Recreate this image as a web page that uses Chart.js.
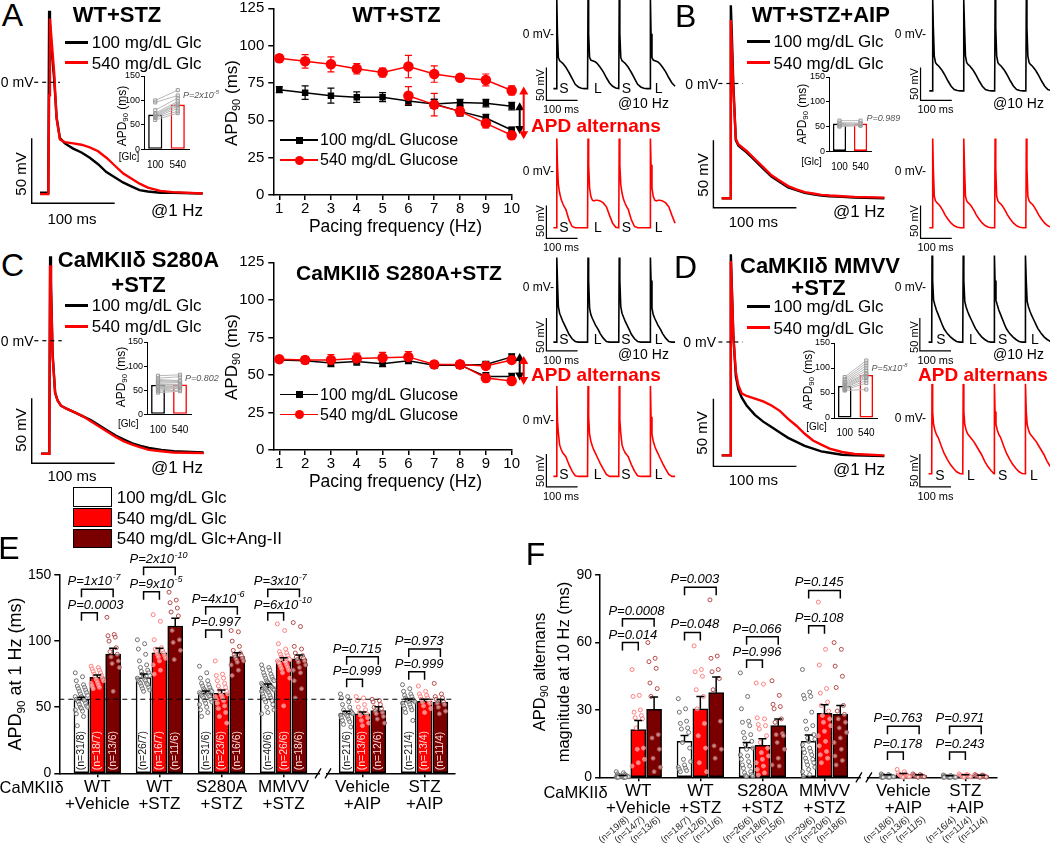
<!DOCTYPE html>
<html>
<head>
<meta charset="utf-8">
<script src="https://cdn.jsdelivr.net/npm/chart.js@4.4.0/dist/chart.umd.min.js"></script>
<style>
  body { margin: 0; background: #fff; }
  #fig { position: relative; width: 1050px; height: 843px; overflow: hidden; background: #fff;
         font-family: 'Liberation Sans', Arial, sans-serif; color: #000; }
  #fig canvas { position: absolute; }
  .t { position: absolute; white-space: nowrap; line-height: 1; }
  .t sub, .t sup { font-size: 0.65em; line-height: 0; }
  .t sub { vertical-align: -0.3em; }
  .t sup { vertical-align: 0.55em; }
  .ln, .mk, .box { position: absolute; }
  .box { border: 1.5px solid #000; box-sizing: border-box; }
</style>
</head>
<body>
<div id="fig"></div>
<script>
// ---- action potentials at 1 Hz (ms / mV) ----
const apTime = [-10, 0, 1, 2, 4, 7, 10, 14, 20, 30, 40, 50, 60, 70, 80, 90, 100, 110, 120, 135, 150, 186];
const apA_100 = [-85, -85, 55, 45, 25, 3, -27, -43, -47, -51, -54, -58, -63, -69, -73, -77, -80, -83, -84, -85, -85, -85.5];
const apA_540 = [-86, -86, -10, 49, 32, 8, -28, -44, -46, -47, -48, -50, -53, -58, -64, -70, -74, -78, -81, -83.5, -84.5, -85.5];
const apB_100 = [-85, -85, 58, 40, 0, -42, -46, -48, -51, -57, -63, -69, -73, -77, -79, -81, -82, -83, -83.5, -84, -84.5, -85];
const apB_540 = [-85, -85, 47, 30, -5, -41, -45, -47, -50, -56, -62, -68, -72, -76, -78.5, -80.5, -81.5, -82.5, -83, -83.5, -84, -84.5];
const apC_100 = [-87, -87, 65, 45, -10, -40, -46, -50, -52, -55, -58, -61, -65, -69, -73, -76, -79, -81, -82.5, -84, -85, -86];
const apC_540 = [-87, -87, 58, 40, -12, -40, -46, -50, -52, -55, -58, -62, -66, -70, -74, -77.5, -80, -82, -84, -85, -86, -86.5];
const apD_100 = [-84, -84, 65, 45, 5, -25, -35, -41, -47, -54, -59, -63, -67, -71, -74, -77, -79, -81, -82, -83.5, -84, -84.5];
const apD_540 = [-84, -84, 60, 42, 5, -22, -32, -38, -40, -42, -44, -47, -51, -57, -62, -68, -73, -76, -79, -81.5, -83, -84];

// ---- single beats at 10 Hz (S = short, L = long) ----
const beatTime = [0, 1, 3, 6, 10, 15, 20, 25, 30, 35, 40, 50, 60, 70, 80, 90, 99.5];
const beatA100S = [-83.5, 52, 0, -36, -41, -43, -45, -48, -51, -55, -59, -68, -77, -81, -83, -83.5, -83.5];
const beatA100L = [-83.5, 52, 0, -36, -40, -41, -42, -43, -45, -48, -51, -58, -67, -75, -80, -82.5, -83.5];
const beatA540S = [-86, 50, 10, -20, -33, -43, -49, -54, -58, -66, -74, -84, -86, -86, -86, -86, -86];
const beatA540L = [-86, 50, 10, -25, -38, -44, -45, -44, -44, -44.5, -45, -48, -54, -67, -79, -85, -86];
const beatB100 = [-87, 52, 10, -34, -44, -47, -49, -52, -55, -59, -63, -72, -80, -85, -86.5, -87, -87];
const beatB540 = [-86, 50, 5, -38, -45, -48, -50, -53, -57, -61, -66, -73, -79, -83, -85, -86, -86];
const beatC100S = [-84, 45, 10, -30, -40, -46, -52, -57, -62, -67, -72, -79, -83, -84, -84, -84, -84];
const beatC100L = [-84, 45, 10, -32, -42, -48, -53, -58, -62, -66, -71, -78, -83, -84, -84, -84, -84];
const beatC540S = [-86, 52, 0, -20, -38, -45, -50, -53, -56, -62, -68, -78, -85, -86, -86, -86, -86];
const beatC540L = [-86, 52, 5, -22, -32, -40, -46, -51, -56, -61, -66, -75, -83, -86, -86, -86, -86];
const beatD100S = [-84, 48, 10, -20, -27, -35, -41, -47, -53, -59, -64, -71, -76, -80, -83, -84, -84];
const beatD100L = [-84, 48, 10, -22, -30, -37, -43, -48, -53, -58, -63, -70, -76, -80, -83, -84, -84];
const beatD540S = [-85, 52, 10, -10, -18, -25, -29, -35, -42, -48, -54, -63, -71, -77, -82, -84.5, -85];
const beatD540L = [-85, 52, 10, -10, -18, -24, -27, -30, -33, -36, -40, -48, -56, -66, -74, -80, -85];

// ---- inset APD90 at 1 Hz (ms) ----
const insetLabels = ['100', '540'];
const insetA_mean = [71, 91.5];
const insetA_100 = [100, 96, 80, 74, 72, 70, 68, 66, 64, 60];
const insetA_540 = [121, 110, 105, 98, 94, 91, 88, 84, 78, 74];
const insetB_mean = [56, 56];
const insetB_100 = [62, 58, 56, 54, 52, 50];
const insetB_540 = [62, 57, 55, 55, 52, 52];
const insetC_mean = [61, 62];
const insetC_100 = [80, 75, 72, 70, 68, 65, 63, 62, 60, 58, 57, 55, 53, 50, 48, 45];
const insetC_540 = [82, 78, 70, 68, 70, 66, 62, 60, 62, 58, 56, 58, 55, 54, 50, 48];
const insetD_mean = [64, 86];
const insetD_100 = [82, 78, 75, 72, 70, 68, 66, 64, 62, 60, 58, 56, 55];
const insetD_540 = [115, 110, 105, 100, 95, 90, 88, 85, 82, 80, 75, 70, 57];

// ---- APD90 vs pacing frequency ----
const freqHz = [1, 2, 3, 4, 5, 6, 7, 8, 9, 10];
const aGlc100 = [70.5, 68.5, 66.5, 65.5, 65.5, 63, 61, 62, 61.5, 59.5];
const aGlc100Err = [2, 4.5, 5, 3.5, 3, 3, 3, 2, 2.5, 2.5];
const aGlc100Alt = [null, null, null, null, null, null, 61, 56, 51.5, 43.5];
const aGlc100AltErr = [null, null, null, null, null, null, 3, 3, 2.5, 2];
const aGlc540 = [91.5, 89.5, 87.5, 84.5, 82, 86, 81, 78.5, 77, 70];
const aGlc540Err = [2.5, 4.5, 5, 3.5, 3, 7.5, 5.5, 2, 4, 3];
const aGlc540Alt = [null, null, null, null, null, 66.5, 60.5, 56, 48, 40];
const aGlc540AltErr = [null, null, null, null, null, 6, 7.5, 3, 3, 2.5];
const cGlc100 = [60, 59.5, 58, 59, 57.5, 59.5, 56.5, 56.5, 57, 62];
const cGlc100Err = [1.5, 2, 2.5, 2.5, 2, 2, 2, 2, 2, 2];
const cGlc100Alt = [null, null, null, null, null, null, null, 56.5, 49, 49];
const cGlc100AltErr = [null, null, null, null, null, null, null, 2, 2.5, 2];
const cGlc540 = [60.5, 60, 60, 61, 61.5, 62, 57, 57, 56, 60];
const cGlc540Err = [1.5, 2, 3.5, 3.5, 3.5, 3.5, 2, 2, 2, 2];
const cGlc540Alt = [null, null, null, null, null, null, null, 57, 48, 46];
const cGlc540AltErr = [null, null, null, null, null, null, null, 2, 2.5, 2];

// ---- panels E and F ----
const groupLabels = [['WT', '+Vehicle'], ['WT', '+STZ'], ['S280A', '+STZ'], ['MMVV', '+STZ'], ['Vehicle', '+AIP'], ['STZ', '+AIP']];
const e100 = [56, 72.4, 60.5, 65.5, 45.4, 54.7];
const e540 = [72.6, 91.2, 60.5, 85, 44.9, 54.5];
const eAng = [90.2, 111.4, 88.2, 86.5, 47.4, 53.9];
const e100Err = [1.5, 2.7, 1.8, 2, 1.5, 1.5];
const e540Err = [1.8, 3.4, 2.5, 2.5, 1.5, 1.5];
const eAngErr = [4.4, 5.8, 3, 3, 3, 2];
const eBaseline = 56;
const ePts100 = [
  [76, 73, 70, 67, 66, 65, 64, 63, 62, 61, 60, 59, 58, 58, 57, 56, 56, 55, 55, 54, 53, 52, 51, 50, 50, 49, 48, 47, 45, 43, 36],
  [101, 98, 94, 90, 85, 82, 80, 78, 77, 76, 75, 74, 73, 72, 71, 70, 70, 69, 68, 68, 67, 66, 65, 64, 63, 62],
  [81, 76, 72, 70, 68, 67, 66, 65, 64, 63, 63, 62, 62, 61, 61, 60, 60, 59, 59, 58, 58, 57, 56, 55, 54, 53, 52, 50, 48, 46, 43],
  [82, 80, 79, 78, 76, 75, 74, 73, 72, 71, 70, 70, 69, 68, 68, 67, 67, 66, 66, 65, 65, 64, 64, 63, 63, 62, 62, 61, 60, 59, 58, 57, 56, 55, 54, 52, 50, 48, 46, 45],
  [60, 58, 57, 54, 52, 50, 48, 47, 46, 46, 45, 45, 44, 44, 43, 42, 41, 40, 39, 37, 35],
  [67, 64, 62, 60, 59, 58, 57, 56, 56, 55, 55, 54, 54, 53, 52, 51, 50, 49, 48, 46, 40]
];
const ePts540 = [
  [81, 80, 79, 78, 77, 76, 75, 74, 73, 72, 71, 70, 69, 68, 67, 66, 65, 64],
  [120, 115, 101, 95, 94, 93, 92, 91, 90, 89, 88, 87, 85, 82, 78, 75],
  [85, 75, 74, 72, 70, 68, 66, 65, 63, 62, 61, 60, 59, 58, 57, 56, 55, 53, 51, 49, 46, 43, 38],
  [113, 108, 98, 94, 92, 91, 90, 89, 88, 87, 87, 86, 86, 85, 85, 84, 84, 83, 82, 81, 80, 79, 78, 76, 72, 51],
  [58, 57, 55, 52, 50, 48, 46, 45, 44, 42, 40, 38, 36],
  [66, 62, 60, 59, 58, 57, 56, 55, 54, 53, 51, 49, 46]
];
const ePtsAng = [
  [118, 105, 104, 103, 100, 95, 92, 90, 88, 85, 83, 80, 62],
  [137, 131, 129, 125, 122, 119, 108, 101, 99, 93, 86],
  [108, 107, 100, 96, 93, 91, 90, 89, 88, 87, 86, 85, 84, 82, 78, 74],
  [114, 111, 96, 94, 91, 89, 88, 87, 86, 85, 84, 82, 80, 78, 76, 70, 64, 57],
  [56, 55, 54, 52, 50, 49, 47, 46, 45, 43, 41, 38],
  [68, 60, 58, 57, 56, 54, 53, 52, 50, 47, 45]
];
const eN100 = ['31/8', '26/7', '31/6', '40/6', '21/6', '21/4'];
const eN540 = ['18/7', '16/7', '23/6', '26/6', '13/6', '13/4'];
const eNAng = ['13/6', '11/6', '16/6', '18/6', '12/6', '11/4'];
const ePvals = [['0.0003', '1x10^-7'], ['9x10^-5', '2x10^-10'], ['0.997', '4x10^-6'], ['6x10^-10', '3x10^-7'], ['0.999', '0.715'], ['0.999', '0.973']];

const f100 = [0.5, 16, 13.3, 16, 0.8, 0.5];
const f540 = [21.3, 30.5, 14.2, 28.5, 1.2, 0.8];
const fAng = [30.3, 37.7, 23, 28, 0.8, 0.6];
const f100Err = [0.3, 2.6, 2.2, 2.8, 0.3, 0.2];
const f540Err = [4, 5.5, 3, 3.8, 0.5, 0.3];
const fAngErr = [5.5, 7, 3, 4, 0.3, 0.3];
const fPts100 = [
  [2.5, 2, 1.5, 1.2, 1, 1, 0.8, 0.6, 0.5, 0.4, 0.3, 0.2, 0.2, 0.1, 0, 0, 0, 0, 0],
  [35, 30.5, 29, 25, 24, 22, 21.5, 20, 15.5, 13, 8, 7, 5.5, 4.5, 4, 3.5, 3, 2.5],
  [46.5, 36, 30.5, 25, 24.5, 23, 20, 19, 17.5, 16, 14.5, 13, 12.5, 10, 9.5, 8, 7, 5.5, 5, 4, 2.5, 2, 1.2, 0.8, 0.5, 0.3],
  [48, 38, 36.5, 36, 35, 29, 25, 23, 21.5, 19, 17.5, 17, 16, 14.5, 13, 12.5, 11.5, 11, 10, 8.5, 8, 7, 6.5, 5.5, 4.5, 3.5, 2.5, 1.2, 0.5],
  [1.5, 1.2, 1, 0.8, 0.8, 0.6, 0.5, 0.5, 0.4, 0.3, 0.3, 0.2, 0.2, 0.1, 0.1, 0, 0, 0],
  [1, 0.8, 0.6, 0.5, 0.4, 0.3, 0.3, 0.2, 0.2, 0.1, 0.1, 0, 0, 0, 0, 0]
];
const fPts540 = [
  [48, 36.5, 36, 30, 29, 27.5, 26.5, 26, 22, 13, 12.5, 8, 6.5, 5],
  [58.5, 48, 47, 45, 39, 36, 30.5, 24, 18.5, 13, 6.5, 2.5],
  [42, 41.5, 26.5, 26, 23.5, 23, 21.5, 18.5, 15.5, 13, 11, 9.5, 8, 6.5, 5, 3.5, 2, 1],
  [78, 57, 50, 39.5, 37.5, 33.5, 32, 29.5, 27.5, 26, 24.5, 23, 20.5, 18.5, 16, 14, 11.5, 10, 8.5, 6.5],
  [3.5, 2.5, 2, 1.5, 1.2, 1, 1, 0.8, 0.6, 0.5, 0.3, 0.2, 0],
  [1.5, 1.2, 1, 1, 0.8, 0.8, 0.6, 0.5, 0.4, 0.2, 0]
];
const fPtsAng = [
  [60, 53, 51.5, 48.5, 42, 39.5, 36, 19, 17.5, 12.5, 8.5, 4.5, 2.5],
  [79, 54, 53, 48, 47, 44, 39, 25, 14, 12.5, 8.5],
  [43, 36.5, 32.5, 31.5, 30.5, 26, 24.5, 19.5, 19, 18.5, 15.5, 12.5, 8.5, 5.5, 5],
  [60, 57, 49.5, 45, 40, 32, 29.5, 28, 26, 24.5, 22, 20, 17.5, 15.5, 12.5, 9.5, 7.5, 5.5],
  [1.5, 1.2, 1, 0.8, 0.8, 0.6, 0.5, 0.4, 0.3, 0.2, 0],
  [1.2, 1, 0.8, 0.8, 0.6, 0.5, 0.4, 0.3, 0.2, 0.1, 0]
];
const fN100 = ['19/8', '18/7', '26/6', '29/6', '18/6', '16/4'];
const fN540 = ['14/7', '12/6', '18/6', '20/6', '13/6', '11/4'];
const fNAng = ['13/6', '11/6', '15/6', '18/6', '11/5', '11/4'];
const fPvals = [['0.014', '0.0008'], ['0.048', '0.003'], ['0.996', '0.066'], ['0.108', '0.145'], ['0.178', '0.763'], ['0.243', '0.971']];

// layout helpers for E/F (not data)
const groupPos = [1, 2, 3, 4, 5.27, 6.27];
const barOff = [-0.255, 0, 0.255];
const eBracketY = [[121.5, 139.2], [137.4, 155.8], [108.4, 126], [121.5, 139.2], [71.1, 88.2], [76.9, 94]];
const fBracketY = [[60, 70.6], [64.5, 84.6], [52.2, 62.6], [67.5, 83.2], [11.3, 22.7], [11.3, 22.7]];

// ================= drawing =================
const RED = '#ff0000', DARK = '#7a0000';
const FONT = "'Liberation Sans', Arial, sans-serif";
Chart.defaults.animation = false;
Chart.defaults.font.family = FONT;
Chart.defaults.color = '#000';
Chart.defaults.plugins.legend.display = false;
Chart.defaults.plugins.tooltip.enabled = false;
Chart.defaults.events = [];

const fig = document.getElementById('fig');

function canvasAt(left, top, w, h) {
  const c = document.createElement('canvas');
  c.width = w; c.height = h;
  c.style.left = left + 'px'; c.style.top = top + 'px';
  c.style.width = w + 'px'; c.style.height = h + 'px';
  fig.appendChild(c);
  return c;
}

// scale bars + dashed 0 mV mark on the voltage traces
const traceDeco = {
  id: 'traceDeco',
  afterDatasetsDraw(chart, args, o) {
    const { ctx, scales: { x, y } } = chart;
    ctx.save();
    ctx.strokeStyle = '#000';
    ctx.lineWidth = o.lw || 1.4;
    if (o.bar) {
      const [t, v] = o.bar;
      ctx.beginPath();
      ctx.moveTo(x.getPixelForValue(t), y.getPixelForValue(v + 50));
      ctx.lineTo(x.getPixelForValue(t), y.getPixelForValue(v));
      ctx.lineTo(x.getPixelForValue(t + 100), y.getPixelForValue(v));
      ctx.stroke();
    }
    if (o.zero) {
      ctx.setLineDash([4, 4]);
      ctx.lineWidth = 1.2;
      ctx.beginPath();
      ctx.moveTo(x.getPixelForValue(o.zero[0]), y.getPixelForValue(0));
      ctx.lineTo(x.getPixelForValue(o.zero[1]), y.getPixelForValue(0));
      ctx.stroke();
    }
    ctx.restore();
  }
};

function traceChart(box, origin, pxMs, pxMv, series, deco, lw) {
  const [left, top, w, h] = box;
  const [ox, oy] = origin;
  new Chart(canvasAt(left, top, w, h), {
    type: 'line',
    data: {
      datasets: series.map(s => ({
        data: s.t.map((t, i) => ({ x: t, y: s.v[i] })),
        borderColor: s.color, borderWidth: lw, pointRadius: 0, tension: 0
      }))
    },
    options: {
      responsive: false,
      layout: { padding: 0 },
      scales: {
        x: { type: 'linear', display: false, min: (left - ox) / pxMs, max: (left + w - ox) / pxMs },
        y: { type: 'linear', display: false, min: (oy - top - h) / pxMv, max: (oy - top) / pxMv }
      },
      plugins: { traceDeco: deco }
    },
    plugins: [traceDeco]
  });
}

function beatTrain(beats) {
  const t = [-10], v = [beats[0][0]];
  beats.forEach((b, k) => beatTime.forEach((bt, i) => {
    if (bt + 100 * k <= 380) { t.push(bt + 100 * k); v.push(b[i]); }
  }));
  return { t, v };
}

function oneHz(box, origin, pxMv, v100, v540, bar, zero) {
  traceChart(box, origin, 0.83, pxMv, [
    { t: apTime, v: v540, color: RED },
    { t: apTime, v: v100, color: '#000' }
  ], { bar, zero }, 2.4);
}

function tenHz(box, origin, beats, color, bar) {
  const tr = beatTrain(beats);
  traceChart(box, origin, 0.312, 0.656, [{ t: tr.t, v: tr.v, color }], { bar, lw: 1.2 }, 1.6);
}

function insetChart(g, means, v100, v540) {
  const left = g.ax - 26, top = g.yTop - 7;
  const w = Math.ceil(g.xEnd - left + 4), h = Math.ceil(g.y0 + 20 - top);
  const pairs = v100.map((v, i) => ({
    type: 'line', order: 0, data: [v, v540[i]],
    borderColor: '#b8b8b8', borderWidth: 1, pointStyle: 'rect', pointRadius: 2.2,
    pointBorderColor: '#9a9a9a', pointBackgroundColor: 'rgba(255,255,255,0.2)', pointBorderWidth: 1
  }));
  new Chart(canvasAt(left, top, w, h), {
    type: 'bar',
    data: {
      labels: insetLabels,
      datasets: [...pairs, {
        type: 'bar', order: 1, data: means, backgroundColor: '#fff', borderColor: ['#000', RED],
        borderWidth: 1.6, borderSkipped: false, categoryPercentage: 1, barPercentage: 0.63
      }]
    },
    options: {
      responsive: false,
      layout: { padding: { top: 7, left: 0, right: left + w - g.xEnd, bottom: 0 } },
      scales: {
        x: {
          grid: { display: false }, border: { color: '#000', width: 1 },
          ticks: { font: { size: 10, lineHeight: 1.1 }, padding: 2, maxRotation: 0 },
          afterFit: s => { s.height = top + h - g.y0; }
        },
        y: {
          min: 0, max: 150, ticks: { stepSize: 50, font: { size: 9 }, padding: 1 },
          grid: { drawOnChartArea: false, tickLength: 3, color: '#000' },
          border: { color: '#000', width: 1 },
          afterFit: s => { s.width = 26; }
        }
      }
    }
  });
}

// error bars + alternans arrows for the frequency plots
function dArrow(ctx, x, yTop, yBot, color) {
  ctx.strokeStyle = color; ctx.fillStyle = color; ctx.lineWidth = 2;
  ctx.beginPath(); ctx.moveTo(x, yTop + 6); ctx.lineTo(x, yBot - 6); ctx.stroke();
  ctx.beginPath(); ctx.moveTo(x, yTop); ctx.lineTo(x - 4.5, yTop + 8); ctx.lineTo(x + 4.5, yTop + 8); ctx.closePath(); ctx.fill();
  ctx.beginPath(); ctx.moveTo(x, yBot); ctx.lineTo(x - 4.5, yBot - 8); ctx.lineTo(x + 4.5, yBot - 8); ctx.closePath(); ctx.fill();
}

const freqDeco = {
  id: 'freqDeco',
  beforeDatasetsDraw(chart) {
    const { ctx, scales: { y } } = chart;
    ctx.save();
    ctx.lineWidth = 1.2;
    chart.data.datasets.forEach((ds, di) => {
      const meta = chart.getDatasetMeta(di);
      ctx.strokeStyle = ds.borderColor;
      ds.errors.forEach((e, i) => {
        const v = ds.data[i].y;
        if (v == null || e == null) return;
        const px = meta.data[i].x;
        const t = y.getPixelForValue(v + e), b = y.getPixelForValue(v - e);
        ctx.beginPath();
        ctx.moveTo(px, t); ctx.lineTo(px, b);
        ctx.moveTo(px - 3.5, t); ctx.lineTo(px + 3.5, t);
        ctx.moveTo(px - 3.5, b); ctx.lineTo(px + 3.5, b);
        ctx.stroke();
      });
    });
    ctx.restore();
  },
  afterDatasetsDraw(chart, args, o) {
    const { ctx, scales: { x, y } } = chart;
    ctx.save();
    (o.arrows || []).forEach(a => {
      dArrow(ctx, x.getPixelForValue(a.at) + a.dx, y.getPixelForValue(a.hi) - 4, y.getPixelForValue(a.lo) + 4, a.color);
    });
    ctx.restore();
  }
};

function freqChart(top, h, series, arrows) {
  new Chart(canvasAt(228, top, 300, h), {
    type: 'line',
    data: {
      datasets: series.map(s => ({
        data: freqHz.map((f, i) => ({ x: f, y: s.v[i] })),
        errors: s.e, borderColor: s.color, backgroundColor: s.color, borderWidth: 1.5,
        pointStyle: s.shape, pointRadius: s.shape === 'rect' ? 3.5 : 4.5,
        pointBackgroundColor: s.color, pointBorderColor: s.color, clip: false, spanGaps: false
      }))
    },
    options: {
      responsive: false,
      layout: { padding: { top: 18.3, right: 16.3, left: 0, bottom: 0 } },
      scales: {
        x: {
          type: 'linear', min: 0.768, max: 10, offset: false,
          afterBuildTicks: s => { s.ticks = freqHz.map(v => ({ value: v })); },
          ticks: { font: { size: 15, lineHeight: 1 }, padding: 1, autoSkip: false, maxRotation: 0 },
          grid: { display: true, offset: false, drawOnChartArea: false, tickLength: 5, color: '#000', lineWidth: 1.5 },
          border: { color: '#000', width: 1.5 },
          afterFit: s => { s.height = 45; }
        },
        y: {
          min: 0, max: 125, ticks: { stepSize: 25, font: { size: 15 }, padding: 4 },
          grid: { drawOnChartArea: false, tickLength: 5, color: '#000', lineWidth: 1.5 },
          border: { color: '#000', width: 1.5 },
          afterFit: s => { s.width = 45.3; }
        }
      },
      plugins: { freqDeco: { arrows } }
    },
    plugins: [freqDeco]
  });
}

// bars, error bars, brackets, n labels and axis break for E / F
function drawP(ctx, val, x, y) {
  const [base, sup] = ('P=' + val).split('^');
  ctx.font = 'italic 13px ' + FONT;
  ctx.textAlign = 'left'; ctx.textBaseline = 'alphabetic';
  ctx.fillText(base, x, y);
  if (sup) {
    const w = ctx.measureText(base).width;
    ctx.font = 'italic 9px ' + FONT;
    ctx.fillText(sup, x + w + 0.5, y - 5.5);
  }
}

const groupDeco = {
  id: 'groupDeco',
  afterDatasetDraw(chart, args, o) {
    const ds = chart.data.datasets[args.index];
    if (ds.type !== 'bar') return;
    const { ctx, chartArea } = chart;
    ctx.save();
    ctx.font = o.nSize + 'px ' + FONT;
    ctx.fillStyle = o.nInside ? ds.nColor : '#222';
    args.meta.data.forEach((el, g) => {
      ctx.save();
      if (o.nInside) {
        ctx.translate(el.x, chartArea.bottom - 3);
        ctx.rotate(-Math.PI / 2);
        ctx.textAlign = 'left';
      } else {
        ctx.translate(el.x + 5, chartArea.bottom + 41);
        ctx.rotate(-40 * Math.PI / 180);
        ctx.textAlign = 'right';
      }
      ctx.textBaseline = 'middle';
      ctx.fillText('(n=' + ds.nText[g] + ')', 0, 0);
      ctx.restore();
    });
    ctx.restore();
  },
  afterDatasetsDraw(chart, args, o) {
    const { ctx, chartArea, scales: { y } } = chart;
    const metas = [0, 1, 2].map(i => chart.getDatasetMeta(i));
    ctx.save();
    ctx.strokeStyle = '#000';
    if (o.dash != null) {
      ctx.setLineDash([5, 4]); ctx.lineWidth = 1.2;
      const py = y.getPixelForValue(o.dash);
      ctx.beginPath(); ctx.moveTo(chartArea.left, py); ctx.lineTo(chartArea.right, py); ctx.stroke();
      ctx.setLineDash([]);
    }
    ctx.lineWidth = 1.5;
    metas.forEach((m, s) => {
      const ds = chart.data.datasets[s];
      m.data.forEach((el, g) => {
        const v = ds.data[g].y, pt = y.getPixelForValue(v + ds.errors[g]);
        ctx.beginPath();
        ctx.moveTo(el.x, el.y); ctx.lineTo(el.x, pt);
        ctx.moveTo(el.x - 4, pt); ctx.lineTo(el.x + 4, pt);
        ctx.stroke();
      });
    });
    ctx.fillStyle = '#000';
    o.levels.forEach((levels, g) => {
      levels.forEach((lev, k) => {
        const xa = metas[0].data[g].x, xb = metas[k + 1].data[g].x;
        const py = y.getPixelForValue(lev);
        ctx.beginPath();
        ctx.moveTo(xa, py + 8); ctx.lineTo(xa, py); ctx.lineTo(xb, py); ctx.lineTo(xb, py + 8);
        ctx.stroke();
        drawP(ctx, o.pvals[g][k], xa - 14, py - 4);
      });
    });
    ctx.restore();
  },
  afterDraw(chart, args, o) {
    const { ctx, chartArea, scales: { x } } = chart;
    const px = x.getPixelForValue(o.breakAt), py = chartArea.bottom;
    ctx.save();
    ctx.fillStyle = '#fff';
    ctx.fillRect(px - 3, py - 3, 6, 6);
    ctx.strokeStyle = '#000'; ctx.lineWidth = 1.3;
    ctx.beginPath();
    ctx.moveTo(px - 8, py + 5); ctx.lineTo(px - 2, py - 5);
    ctx.moveTo(px + 2, py + 5); ctx.lineTo(px + 8, py - 5);
    ctx.stroke();
    ctx.restore();
  }
};

function jitter(i) { return (((i * 7) % 13) / 12 - 0.5) * 0.2; }

function groupChart(c) {
  const fills = ['#fff', RED, DARK];
  const nCol = ['#111', '#ffe6e6', '#ffe0e0'];
  const ptCol = ['#6f6f6f', '#ff7f7f', '#b44a4a'];
  const sets = [];
  c.bars.forEach((vals, s) => sets.push({
    type: 'bar', order: 2, grouped: false, barThickness: 15,
    data: vals.map((v, g) => ({ x: groupPos[g] + barOff[s], y: v })),
    backgroundColor: fills[s], borderColor: '#000', borderWidth: 1.5, borderSkipped: false,
    errors: c.errs[s], nText: c.n[s], nColor: nCol[s]
  }));
  c.pts.forEach((groups, s) => sets.push({
    type: 'scatter', order: 1, clip: false,
    data: groups.flatMap((vals, g) => vals.map((v, i) => ({ x: groupPos[g] + barOff[s] + jitter(i), y: v }))),
    pointRadius: 2, pointBorderWidth: 1, pointBorderColor: ptCol[s], pointBackgroundColor: 'rgba(255,255,255,0.55)'
  }));
  const [left, top, w, h] = c.box;
  new Chart(canvasAt(left, top, w, h), {
    type: 'bar',
    data: { datasets: sets },
    options: {
      responsive: false,
      layout: { padding: { top: c.padTop, right: c.padRight, left: 0, bottom: 0 } },
      scales: {
        x: {
          type: 'linear', min: c.xMin, max: c.xMax, offset: false,
          afterBuildTicks: s => { s.ticks = groupPos.map(v => ({ value: v })); },
          ticks: { callback: (v, i) => groupLabels[i], font: { size: 17, lineHeight: 1 }, padding: 2, autoSkip: false, maxRotation: 0 },
          grid: { display: true, offset: false, drawOnChartArea: false, tickLength: 4, color: '#000', lineWidth: 1.5 },
          border: { color: '#000', width: 1.5 },
          afterFit: s => { s.height = c.xH; }
        },
        y: {
          min: 0, max: c.yMax, ticks: { stepSize: c.yStep, font: { size: 14 }, padding: 3 },
          grid: { drawOnChartArea: false, tickLength: 5, color: '#000', lineWidth: 1.5 },
          border: { color: '#000', width: 1.5 },
          afterFit: s => { s.width = c.yW; }
        }
      },
      plugins: { groupDeco: { dash: c.dash, levels: c.levels, pvals: c.pvals, nInside: c.nInside, nSize: c.nSize, breakAt: 4.635 } }
    },
    plugins: [groupDeco]
  });
}

// ---- panel A ----
oneHz([25, 0, 190, 215], [48.3, 82.3], 1.3, apA_100, apA_540, [-20, -93], [-17, 14]);
tenHz([540, 0, 140, 105], [556.5, 33.8], [beatA100S, beatA100L, beatA100S, beatA100L], '#000', [-32.4, -101.5]);
tenHz([540, 125, 140, 120], [556.5, 171.4], [beatA540S, beatA540L, beatA540S, beatA540L], RED, [-32.4, -102]);
// ---- panel B ----
oneHz([705, 0, 185, 215], [730, 83.5], 1.35, apB_100, apB_540, [-20, -92], [-14, 15.6]);
tenHz([914, 0, 136, 105], [932.4, 33.8], [beatB100, beatB100, beatB100, beatB100], '#000', [-38, -101.5]);
tenHz([914, 125, 136, 120], [932.4, 171.4], [beatB540, beatB540, beatB540, beatB540], RED, [-38, -102]);
// ---- panel C ----
oneHz([25, 245, 190, 225], [49.3, 340.7], 1.3, apC_100, apC_540, [-21.2, -94.3], [-18, 15]);
tenHz([540, 245, 140, 112], [556.5, 287], [beatC100S, beatC100L, beatC100S, beatC100L], '#000', [-32.4, -97.3]);
tenHz([540, 370, 140, 122], [556.5, 420], [beatC540S, beatC540L, beatC540S, beatC540L], RED, [-32.4, -102]);
// ---- panel D ----
oneHz([705, 245, 185, 228], [730, 342], 1.35, apD_100, apD_540, [-20, -92.1], [-14, 15.6]);
tenHz([914, 245, 136, 112], [931.7, 287], [beatD100S, beatD100L, beatD100S, beatD100L], '#000', [-38, -97.3]);
tenHz([914, 370, 136, 122], [931.7, 418], [beatD540S, beatD540L, beatD540S, beatD540L], RED, [-38, -105]);

insetChart({ ax: 144, yTop: 76, y0: 149.3, xEnd: 190 }, insetA_mean, insetA_100, insetA_540);
insetChart({ ax: 829.3, yTop: 77, y0: 151.4, xEnd: 871.5 }, insetB_mean, insetB_100, insetB_540);
insetChart({ ax: 146.7, yTop: 341.7, y0: 414, xEnd: 191.7 }, insetC_mean, insetC_100, insetC_540);
insetChart({ ax: 834.3, yTop: 343.4, y0: 418.4, xEnd: 878 }, insetD_mean, insetD_100, insetD_540);

freqChart(-10, 250, [
  { v: aGlc540, e: aGlc540Err, color: RED, shape: 'circle' },
  { v: aGlc540Alt, e: aGlc540AltErr, color: RED, shape: 'circle' },
  { v: aGlc100, e: aGlc100Err, color: '#000', shape: 'rect' },
  { v: aGlc100Alt, e: aGlc100AltErr, color: '#000', shape: 'rect' }
], [
  { at: 10, dx: 8, hi: aGlc100[9], lo: aGlc100Alt[9], color: '#000' },
  { at: 10, dx: 12, hi: aGlc540[9], lo: aGlc540Alt[9], color: RED }
]);
freqChart(244, 251, [
  { v: cGlc540, e: cGlc540Err, color: RED, shape: 'circle' },
  { v: cGlc540Alt, e: cGlc540AltErr, color: RED, shape: 'circle' },
  { v: cGlc100, e: cGlc100Err, color: '#000', shape: 'rect' },
  { v: cGlc100Alt, e: cGlc100AltErr, color: '#000', shape: 'rect' }
], [
  { at: 10, dx: 8, hi: cGlc100[9], lo: cGlc100Alt[9], color: '#000' },
  { at: 10, dx: 12, hi: cGlc540[9], lo: cGlc540Alt[9], color: RED }
]);

groupChart({
  box: [0, 545, 490, 298], yW: 59.3, padTop: 30, xH: 69.7, padRight: 35.3,
  xMin: 0.388, xMax: 6.755, yMax: 150, yStep: 50,
  bars: [e100, e540, eAng], errs: [e100Err, e540Err, eAngErr], pts: [ePts100, ePts540, ePtsAng],
  n: [eN100, eN540, eNAng], levels: eBracketY, pvals: ePvals, dash: eBaseline, nInside: true, nSize: 10.5
});
groupChart({
  box: [540, 545, 510, 298], yW: 60.1, padTop: 30.2, xH: 65.7, padRight: 53.4,
  xMin: 0.385, xMax: 6.773, yMax: 90, yStep: 30,
  bars: [f100, f540, fAng], errs: [f100Err, f540Err, fAngErr], pts: [fPts100, fPts540, fPtsAng],
  n: [fN100, fN540, fNAng], levels: fBracketY, pvals: fPvals, dash: null, nInside: false, nSize: 9.5
});

// ================= text =================
function T(x, y, html, size, o = {}) {
  const d = document.createElement('div');
  d.className = 't';
  d.innerHTML = html;
  d.style.left = x + 'px'; d.style.top = y + 'px';
  d.style.fontSize = size + 'px';
  if (o.b) d.style.fontWeight = 'bold';
  if (o.i) d.style.fontStyle = 'italic';
  if (o.c) d.style.color = o.c;
  const ax = o.a === 'l' ? '0' : o.a === 'r' ? '-100%' : '-50%';
  d.style.transform = `translate(${ax}, -50%)` + (o.r ? ` rotate(${o.r}deg)` : '');
  fig.appendChild(d);
}
function HL(x1, x2, y, color, th) {
  const d = document.createElement('div');
  d.className = 'ln';
  Object.assign(d.style, { left: x1 + 'px', top: (y - th / 2) + 'px', width: (x2 - x1) + 'px', height: th + 'px', background: color });
  fig.appendChild(d);
}
function MK(x, y, shape, color) {
  const s = shape === 'rect' ? 7 : 9;
  const d = document.createElement('div');
  d.className = 'mk';
  Object.assign(d.style, { left: (x - s / 2) + 'px', top: (y - s / 2) + 'px', width: s + 'px', height: s + 'px',
    background: color, borderRadius: shape === 'rect' ? '0' : '50%' });
  fig.appendChild(d);
}
function BOX(x, y, w, h, color) {
  const d = document.createElement('div');
  d.className = 'box';
  Object.assign(d.style, { left: x + 'px', top: y + 'px', width: w + 'px', height: h + 'px', background: color });
  fig.appendChild(d);
}

// panel letters
T(12.5, 15, 'A', 32); T(685.6, 16, 'B', 32); T(12.5, 265, 'C', 32); T(685.6, 267, 'D', 32);
T(9, 548, 'E', 32); T(535.5, 553.6, 'F', 32);

// titles
T(117, 15, 'WT+STZ', 22, { b: 1 }); T(396.5, 15, 'WT+STZ', 22, { b: 1 }); T(820.8, 15, 'WT+STZ+AIP', 22, { b: 1 });
T(138.5, 260, 'CaMKIIδ S280A', 22, { b: 1 }); T(138.5, 285, '+STZ', 22, { b: 1 });
T(399, 272, 'CaMKIIδ S280A+STZ', 21, { b: 1 });
T(820, 266, 'CaMKIIδ MMVV', 22, { b: 1 }); T(818.5, 288, '+STZ', 22, { b: 1 });

// AP legends
[[65, 88, 91.7, 42, 62.5], [747, 770, 773.5, 41.2, 62.5], [65, 88, 91.7, 305, 326], [747, 770, 773.5, 306.2, 327.9]].forEach(([x1, x2, tx, y1, y2]) => {
  HL(x1, x2, y1, '#000', 3); T(tx, y1, '100 mg/dL Glc', 17, { a: 'l' });
  HL(x1, x2, y2, RED, 3); T(tx, y2, '540 mg/dL Glc', 17, { a: 'l' });
});

// 1 Hz trace labels
[[33.5, 82.3, 19.5, 173.5, 72, 218.3, 177, 210], [718, 83.5, 701.7, 175, 753.3, 221, 859, 211],
 [33.5, 340.7, 19.5, 430, 72, 475, 177, 466.7], [716, 342, 700.8, 433, 753.3, 478.6, 859, 469]].forEach(p => {
  T(p[0], p[1], '0 mV', 14, { a: 'r' });
  T(p[2], p[3], '50 mV', 15, { r: -90 });
  T(p[4], p[5], '100 ms', 15);
  T(p[6], p[7], '@1 Hz', 17);
});

// inset labels
[[129, 157, 121.5, 116, 183, 95, 'P=2x10<sup>-5</sup>'], [811.5, 161.6, 802, 114, 866.5, 118, 'P=0.989'],
 [128.3, 424.3, 121, 376.5, 185, 378, 'P=0.802'], [816.6, 427, 808, 380, 871.5, 367.7, 'P=5x10<sup>-8</sup>']].forEach(p => {
  T(p[0], p[1], '[Glc]', 10);
  T(p[2], p[3], 'APD<sub>90</sub> (ms)', 12, { r: -90 });
  T(p[4], p[5], p[6], 9, { i: 1, a: 'l', c: '#555' });
});

// 10 Hz trace labels
[[554, 33.8, 540, 84.5, 561, 109], [554, 171.4, 540, 221.4, 561, 246.7], [926, 33.8, 913.7, 84, 935.5, 109], [926, 171.4, 913.7, 221, 935.5, 246.7],
 [554, 287, 539.5, 336.5, 561, 360.3], [554, 420, 539.5, 471, 561, 495.5], [926, 287, 913.7, 336.5, 935.5, 360.3], [926, 418, 913.7, 471, 935.5, 495.5]].forEach(p => {
  T(p[0], p[1], '0 mV-', 12, { a: 'r' });
  T(p[2], p[3], '50 mV', 11, { r: -90 });
  T(p[4], p[5], '100 ms', 11);
});
T(643.5, 103, '@10 Hz', 14); T(1018.5, 103, '@10 Hz', 14); T(643.5, 354, '@10 Hz', 14); T(1018.5, 354, '@10 Hz', 14);
[[[564, 598, 626.5, 658.6], 88], [[564, 598, 626.5, 658.6], 227], [[564, 597.7, 625.8, 658.6], 339], [[564, 597.7, 625.8, 658.6], 473.5],
 [[940.8, 973, 1002.7, 1034.8], 339], [[940, 971, 1002.7, 1033.8], 475]].forEach(([xs, y]) => {
  xs.forEach((x, k) => T(x, y, k % 2 ? 'L' : 'S', 14));
});
T(596, 125, 'APD alternans', 19, { b: 1, c: RED });
T(596, 373.8, 'APD alternans', 19, { b: 1, c: RED });
T(983, 373.8, 'APD alternans', 19, { b: 1, c: RED });

// frequency plot labels
[[0, 103, 227], [254.5, 357, 481.7]].forEach(([dy, ty, xy]) => {
  T(231, ty, 'APD<sub>90</sub> (ms)', 17, { r: -90 });
  T(395.5, xy, 'Pacing frequency (Hz)', 17.5);
  HL(280, 318, 140 + dy, '#000', 1.5); MK(299, 140 + dy, 'rect', '#000'); T(320, 140 + dy, '100 mg/dL Glucose', 16, { a: 'l' });
  HL(280, 318, 160 + dy, RED, 1.5); MK(299, 160 + dy, 'circle', RED); T(320, 160 + dy, '540 mg/dL Glucose', 16, { a: 'l' });
});

// E / F legend and axis labels
BOX(73.3, 487.3, 38.4, 19.4, '#fff'); BOX(73.3, 508.3, 38.4, 19, RED); BOX(73.3, 529, 38.4, 18.7, DARK);
T(116.7, 497.3, '100 mg/dL Glc', 17, { a: 'l' });
T(116.7, 518, '540 mg/dL Glc', 17, { a: 'l' });
T(116.7, 538.3, '540 mg/dL Glc+Ang-II', 17, { a: 'l' });
T(15, 674, 'APD<sub>90</sub> at 1 Hz (ms)', 18, { r: -90 });
T(31.7, 786.7, 'CaMKIIδ', 16.5);
T(538.6, 672, 'APD<sub>90</sub> alternans', 16.5, { r: -90 });
T(562.5, 672, 'magnitude at 10 Hz (ms)', 16.5, { r: -90 });
T(575.5, 791.5, 'CaMKIIδ', 16.5);
</script>
</body>
</html>
